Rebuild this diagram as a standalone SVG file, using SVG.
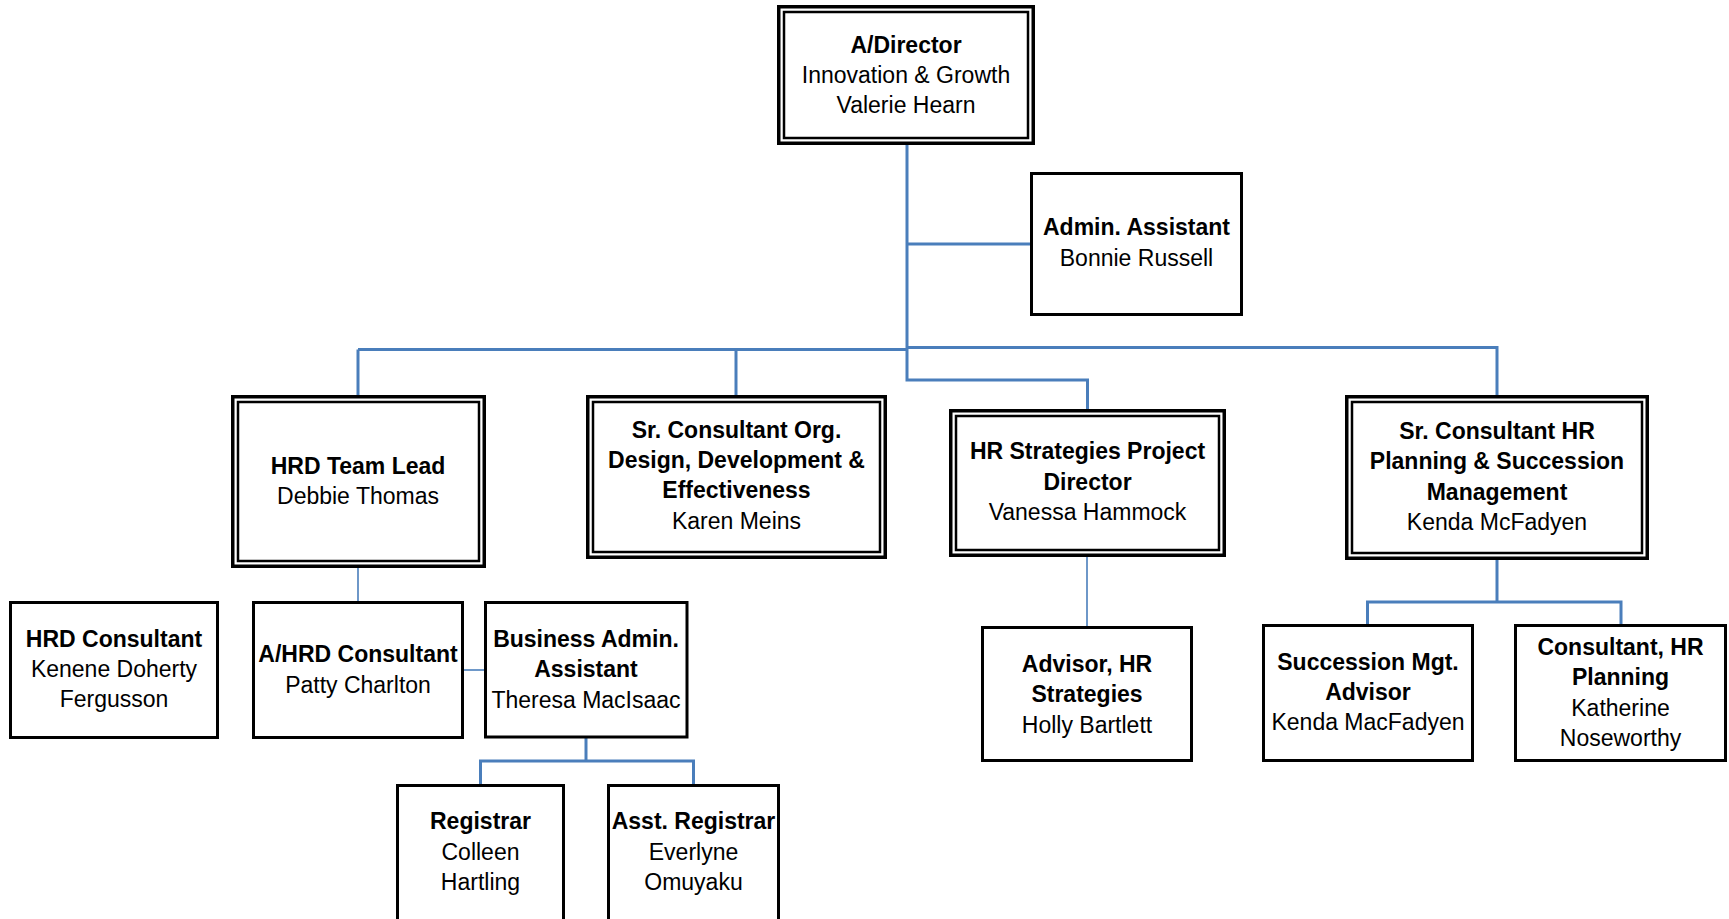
<svg xmlns="http://www.w3.org/2000/svg" width="1729" height="919" viewBox="0 0 1729 919">
<style>
.bg{fill:#ffffff}
.box{fill:#ffffff;stroke:#000000;stroke-width:3}
.dbo{fill:#ffffff;stroke:#000000;stroke-width:3.5}
.dbi{fill:none;stroke:#000000;stroke-width:2.5}
.con{fill:none;stroke:#4A7EBB;stroke-width:3}
.thin{fill:none;stroke:#4A7EBB;stroke-width:1.6}
text{font-family:"Liberation Sans",Arial,sans-serif;font-size:23px;fill:#000000;text-anchor:middle}
.b{font-weight:bold}
</style>
<rect class="bg" x="0" y="0" width="1729" height="919"/>
<g id="connectors">
<path class="con" d="M907 145 V380 H1087.5 V409"/>
<path class="con" d="M907 244 H1030"/>
<path class="con" d="M358 349.5 H907"/>
<path class="con" d="M358 349.5 V395"/>
<path class="con" d="M736 349.5 V395"/>
<path class="con" d="M907 347.5 H1497 V395"/>
<path class="thin" d="M358 568 V601"/>
<path class="thin" d="M464 670 H484"/>
<path class="con" d="M586 738 V761"/>
<path class="con" d="M480.5 784 V761 H693.5 V784"/>
<path class="thin" d="M1087 557 V626"/>
<path class="con" d="M1497 560 V602"/>
<path class="con" d="M1367.5 624 V602 H1621 V624"/>
</g>
<g id="director">
<rect class="dbo" x="778.75" y="6.75" width="254.5" height="136.5"/>
<rect class="dbi" x="784" y="12" width="244" height="126"/>
<text class="b" x="906" y="52.5">A/Director</text>
<text x="906" y="82.5">Innovation &amp; Growth</text>
<text x="906" y="112.5">Valerie Hearn</text>
</g>
<g id="admin-assistant">
<rect class="box" x="1031.5" y="173.5" width="210" height="141"/>
<text class="b" x="1136.5" y="234.5">Admin. Assistant</text>
<text x="1136.5" y="265.5">Bonnie Russell</text>
</g>
<g id="hrd-team-lead">
<rect class="dbo" x="232.75" y="396.75" width="251.5" height="169.5"/>
<rect class="dbi" x="238" y="402" width="241" height="159"/>
<text class="b" x="358" y="474">HRD Team Lead</text>
<text x="358" y="504">Debbie Thomas</text>
</g>
<g id="sr-consultant-org">
<rect class="dbo" x="587.75" y="396.75" width="297.5" height="160.5"/>
<rect class="dbi" x="593" y="402" width="287" height="150"/>
<text class="b" x="736.5" y="438">Sr. Consultant Org.</text>
<text class="b" x="736.5" y="468">Design, Development &amp;</text>
<text class="b" x="736.5" y="498">Effectiveness</text>
<text x="736.5" y="528.5">Karen Meins</text>
</g>
<g id="hr-strategies-director">
<rect class="dbo" x="950.75" y="410.75" width="273.5" height="144.5"/>
<rect class="dbi" x="956" y="416" width="263" height="134"/>
<text class="b" x="1087.5" y="459">HR Strategies Project</text>
<text class="b" x="1087.5" y="490">Director</text>
<text x="1087.5" y="520">Vanessa Hammock</text>
</g>
<g id="sr-consultant-hr">
<rect class="dbo" x="1346.75" y="396.75" width="300.5" height="161.5"/>
<rect class="dbi" x="1352" y="402" width="290" height="151"/>
<text class="b" x="1497" y="438.5">Sr. Consultant HR</text>
<text class="b" x="1497" y="469">Planning &amp; Succession</text>
<text class="b" x="1497" y="499.5">Management</text>
<text x="1497" y="530">Kenda McFadyen</text>
</g>
<g id="hrd-consultant">
<rect class="box" x="10.5" y="602.5" width="207" height="135"/>
<text class="b" x="114" y="646.5">HRD Consultant</text>
<text x="114" y="676.5">Kenene Doherty</text>
<text x="114" y="706.5">Fergusson</text>
</g>
<g id="a-hrd-consultant">
<rect class="box" x="253.5" y="602.5" width="209" height="135"/>
<text class="b" x="358" y="661.5">A/HRD Consultant</text>
<text x="358" y="692.5">Patty Charlton</text>
</g>
<g id="business-admin">
<rect class="box" x="485.5" y="602.5" width="201.5" height="134.5"/>
<text class="b" x="586" y="646.5">Business Admin.</text>
<text class="b" x="586" y="676.5">Assistant</text>
<text x="586" y="707.5">Theresa MacIsaac</text>
</g>
<g id="registrar">
<rect class="box" x="397.5" y="785.5" width="166" height="150"/>
<text class="b" x="480.5" y="829">Registrar</text>
<text x="480.5" y="859.5">Colleen</text>
<text x="480.5" y="890">Hartling</text>
</g>
<g id="asst-registrar">
<rect class="box" x="608.5" y="785.5" width="170" height="150"/>
<text class="b" x="693.5" y="829">Asst. Registrar</text>
<text x="693.5" y="859.5">Everlyne</text>
<text x="693.5" y="890">Omuyaku</text>
</g>
<g id="advisor-hr-strategies">
<rect class="box" x="982.5" y="627.5" width="209" height="133"/>
<text class="b" x="1087" y="671.5">Advisor, HR</text>
<text class="b" x="1087" y="702">Strategies</text>
<text x="1087" y="732.5">Holly Bartlett</text>
</g>
<g id="succession-advisor">
<rect class="box" x="1263.5" y="625.5" width="209" height="135"/>
<text class="b" x="1368" y="669.5">Succession Mgt.</text>
<text class="b" x="1368" y="699.5">Advisor</text>
<text x="1368" y="730">Kenda MacFadyen</text>
</g>
<g id="consultant-hr-planning">
<rect class="box" x="1515.5" y="625.5" width="210" height="135"/>
<text class="b" x="1620.5" y="655">Consultant, HR</text>
<text class="b" x="1620.5" y="685">Planning</text>
<text x="1620.5" y="715.5">Katherine</text>
<text x="1620.5" y="745.5">Noseworthy</text>
</g>
</svg>
